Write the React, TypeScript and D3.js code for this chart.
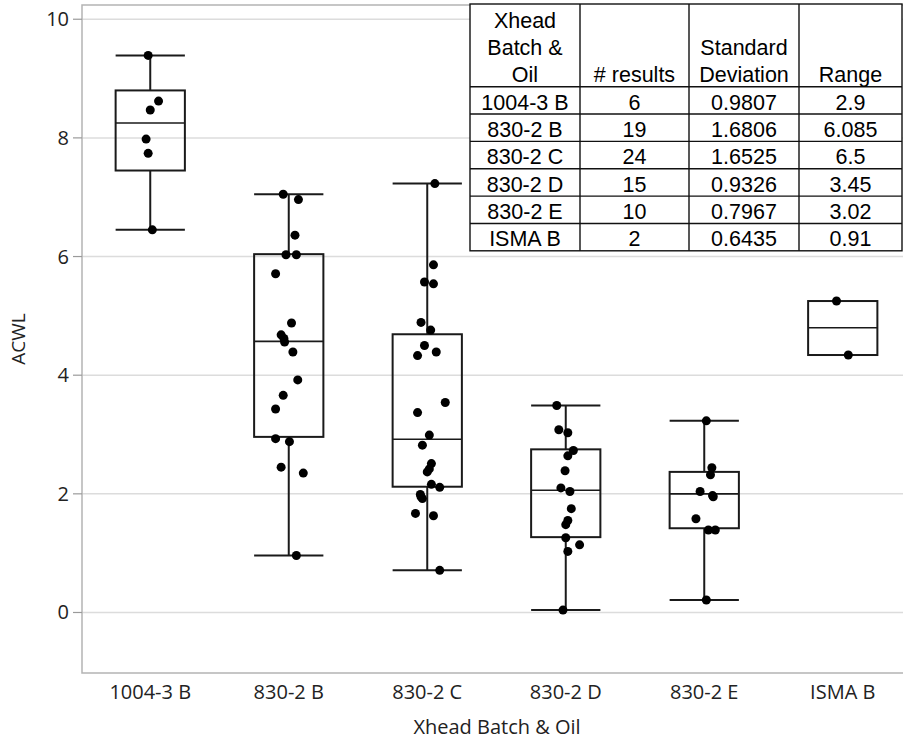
import React from "react";
import * as d3 from "d3";

// Batches on the x axis
const categories = ["1004-3 B", "830-2 B", "830-2 C", "830-2 D", "830-2 E", "ISMA B"];

// ACWL results per batch
const values1004_3B = [9.39, 8.62, 8.47, 7.98, 7.74, 6.45];
const values830_2B = [7.05, 6.96, 6.36, 6.03, 6.03, 5.71, 4.88, 4.68, 4.62, 4.56, 4.39, 3.92, 3.66, 3.43, 2.93, 2.88, 2.45, 2.35, 0.96];
const values830_2C = [7.23, 5.86, 5.57, 5.54, 4.89, 4.76, 4.5, 4.39, 4.33, 3.54, 3.37, 2.99, 2.82, 2.51, 2.42, 2.37, 2.16, 2.11, 1.99, 1.95, 1.92, 1.67, 1.63, 0.71];
const values830_2D = [3.49, 3.08, 3.03, 2.73, 2.64, 2.39, 2.1, 2.04, 1.75, 1.55, 1.48, 1.26, 1.14, 1.03, 0.04];
const values830_2E = [3.23, 2.44, 2.32, 2.04, 1.97, 1.95, 1.58, 1.39, 1.39, 0.21];
const valuesISMA_B = [5.25, 4.34];

// Horizontal jitter of each point, as a fraction of the box width
const jitter1004_3B = [-0.03, 0.12, 0.0, -0.06, -0.03, 0.03];
const jitter830_2B = [-0.08, 0.14, 0.09, -0.04, 0.11, -0.19, 0.04, -0.11, -0.07, -0.06, 0.06, 0.13, -0.08, -0.19, -0.19, 0.01, -0.11, 0.21, 0.11];
const jitter830_2C = [0.11, 0.09, -0.04, 0.09, -0.09, 0.05, -0.04, 0.13, -0.14, 0.26, -0.14, 0.03, -0.07, 0.06, 0.03, 0.0, 0.06, 0.18, -0.1, -0.09, -0.07, -0.17, 0.09, 0.18];
const jitter830_2D = [-0.13, -0.1, 0.03, 0.11, 0.03, -0.01, -0.07, 0.06, 0.08, 0.03, 0.0, 0.0, 0.2, 0.03, -0.04];
const jitter830_2E = [0.03, 0.11, 0.09, -0.06, 0.12, 0.13, -0.12, 0.06, 0.16, 0.03];
const jitterISMA_B = [-0.09, 0.08];

const seriesValues = [values1004_3B, values830_2B, values830_2C, values830_2D, values830_2E, valuesISMA_B];
const seriesJitter = [jitter1004_3B, jitter830_2B, jitter830_2C, jitter830_2D, jitter830_2E, jitterISMA_B];

// Quartiles of each batch
const q1Values = [7.45, 2.96, 2.12, 1.27, 1.42, 4.34];
const medianValues = [8.25, 4.57, 2.92, 2.06, 2.0, 4.8];
const q3Values = [8.8, 6.04, 4.69, 2.75, 2.37, 5.25];

const yTicks = [0, 2, 4, 6, 8, 10];

// Summary table
const tableHeaders = [["Xhead", "Batch &", "Oil"], ["# results"], ["Standard", "Deviation"], ["Range"]];
const tableCounts = ["6", "19", "24", "15", "10", "2"];
const tableStdDevs = ["0.9807", "1.6806", "1.6525", "0.9326", "0.7967", "0.6435"];
const tableRanges = ["2.9", "6.085", "6.5", "3.45", "3.02", "0.91"];

const W = 903;
const H = 741;
const plot = { left: 82, top: 5, right: 912, bottom: 673 };
const axisFont = "'Open Sans', 'Noto Sans', sans-serif";
const tableFont = "'Liberation Sans', Arial, sans-serif";

export default function App() {
  const x = d3
    .scaleBand<string>()
    .domain(categories)
    .range([plot.left - 1, plot.right])
    .paddingInner(0.5)
    .paddingOuter(0.25);
  const y = d3.scaleLinear().domain([-1.02, 10.24]).range([plot.bottom, plot.top]);
  const bw = x.bandwidth();

  // table geometry
  const colX = [470, 580, 689, 799, 902];
  const headerTop = 4;
  const headerBottom = 86.7;
  const rowH = 27.35;
  const rows = categories.map((c, i) => [c, tableCounts[i], tableStdDevs[i], tableRanges[i]]);
  const tableBottom = headerBottom + rowH * rows.length;

  return (
    <svg
      width={W}
      height={H}
      style={{ position: "absolute", left: 0, top: 0, background: "#fff" }}
    >
      {/* grid */}
      {yTicks.map((t) => (
        <line key={"g" + t} x1={plot.left} x2={W} y1={y(t)} y2={y(t)} stroke="#dcdcdc" strokeWidth={1.5} />
      ))}
      {/* frame */}
      <path
        d={`M${W},${plot.top}H${plot.left}V${plot.bottom}H${W}`}
        fill="none"
        stroke="#b4b4b4"
        strokeWidth={1.5}
      />
      {/* y ticks and labels */}
      {yTicks.map((t) => (
        <g key={"t" + t}>
          <line x1={73} x2={plot.left} y1={y(t)} y2={y(t)} stroke="#9a9a9a" strokeWidth={1.2} />
          <text
            x={69}
            y={y(t)}
            dy="0.35em"
            textAnchor="end"
            fontFamily={axisFont}
            fontSize={20}
            fill="#222"
          >
            {t}
          </text>
        </g>
      ))}
      {/* x labels */}
      {categories.map((c) => (
        <text
          key={"x" + c}
          x={(x(c) as number) + bw / 2}
          y={699}
          textAnchor="middle"
          fontFamily={axisFont}
          fontSize={20}
          fill="#222"
        >
          {c}
        </text>
      ))}
      <text x={497} y={734} textAnchor="middle" fontFamily={axisFont} fontSize={20} fill="#222">
        Xhead Batch &amp; Oil
      </text>
      <text
        transform={`translate(25,${(plot.top + plot.bottom) / 2}) rotate(-90)`}
        textAnchor="middle"
        fontFamily={axisFont}
        fontSize={19}
        fill="#222"
      >
        ACWL
      </text>

      {/* boxes */}
      {categories.map((c, i) => {
        const x0 = x(c) as number;
        const cx = x0 + bw / 2;
        const vals = seriesValues[i];
        const [lo, hi] = d3.extent(vals) as [number, number];
        const q1 = q1Values[i];
        const q3 = q3Values[i];
        const med = medianValues[i];
        return (
          <g key={"b" + c} stroke="#1a1a1a" strokeWidth={2} fill="none">
            {hi > q3 && (
              <>
                <line x1={cx} x2={cx} y1={y(q3)} y2={y(hi)} />
                <line x1={x0} x2={x0 + bw} y1={y(hi)} y2={y(hi)} />
              </>
            )}
            {lo < q1 && (
              <>
                <line x1={cx} x2={cx} y1={y(q1)} y2={y(lo)} />
                <line x1={x0} x2={x0 + bw} y1={y(lo)} y2={y(lo)} />
              </>
            )}
            <rect x={x0} y={y(q3)} width={bw} height={y(q1) - y(q3)} />
            <line x1={x0} x2={x0 + bw} y1={y(med)} y2={y(med)} strokeWidth={1.6} />
          </g>
        );
      })}

      {/* points */}
      {categories.map((c, i) => {
        const cx = (x(c) as number) + bw / 2;
        return seriesValues[i].map((v, j) => (
          <circle key={c + j} cx={cx + seriesJitter[i][j] * bw} cy={y(v)} r={4.5} fill="#000" />
        ));
      })}

      {/* summary table */}
      <g>
        <rect
          x={colX[0]}
          y={headerTop}
          width={colX[4] - colX[0]}
          height={tableBottom - headerTop}
          fill="#fff"
          stroke="#111"
          strokeWidth={1.4}
        />
        {colX.slice(1, 4).map((cx) => (
          <line key={"c" + cx} x1={cx} x2={cx} y1={headerTop} y2={tableBottom} stroke="#111" strokeWidth={1.4} />
        ))}
        {rows.map((_, r) => (
          <line
            key={"r" + r}
            x1={colX[0]}
            x2={colX[4]}
            y1={headerBottom + r * rowH}
            y2={headerBottom + r * rowH}
            stroke="#111"
            strokeWidth={1.4}
          />
        ))}
        {tableHeaders.map((lines, ci) => {
          const cx = (colX[ci] + colX[ci + 1]) / 2;
          return lines.map((ln, li) => (
            <text
              key={"h" + ci + li}
              x={cx}
              y={headerBottom - 5 - (lines.length - 1 - li) * 27}
              textAnchor="middle"
              fontFamily={tableFont}
              fontSize={21.5}
              fill="#000"
            >
              {ln}
            </text>
          ));
        })}
        {rows.map((row, r) =>
          row.map((cell, ci) => (
            <text
              key={"d" + r + ci}
              x={(colX[ci] + colX[ci + 1]) / 2}
              y={headerBottom + (r + 1) * rowH - 4.5}
              textAnchor="middle"
              fontFamily={tableFont}
              fontSize={21.5}
              fill="#000"
            >
              {cell}
            </text>
          ))
        )}
      </g>
    </svg>
  );
}
